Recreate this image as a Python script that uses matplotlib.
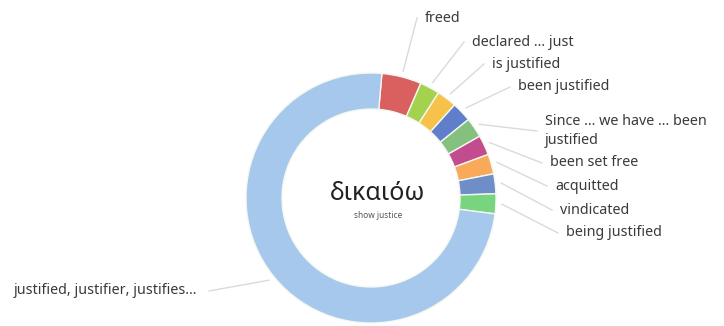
import matplotlib.pyplot as plt
import numpy as np

# word usage for δικαιόω
labels = ['freed', 'declared ... just', 'is justified', 'been justified',
          'Since ... we have ... been\njustified', 'been set free', 'acquitted',
          'vindicated', 'being justified', 'justified, justifier, justifies...']
counts = [2, 1, 1, 1, 1, 1, 1, 1, 1, 29]
colors = ['#d9605f', '#a5d24e', '#f6c24a', '#5f7fcb', '#86c07e', '#c24c8e',
          '#f8a95a', '#6f8ec8', '#78d47f', '#a6c8ec']

# where each label sits (left edge x, centre y) in pixels
label_pos = [(425, 18), (472, 42), (492, 64), (518, 87), (545, 131),
             (550, 163), (555, 186), (560, 210), (566, 233), (197, 291)]

plt.rcParams['font.family'] = ['Noto Sans', 'DejaVu Sans']

fig = plt.figure(figsize=(7.24, 3.26), dpi=100)
ax = fig.add_axes([0, 0, 1, 1])

cx, cy, R = 371, 198, 125
wedges, _ = ax.pie(counts, colors=colors, center=(cx, cy), radius=R,
                   startangle=-85, counterclock=True,
                   wedgeprops=dict(width=36, edgecolor='#f4f8f0', linewidth=1.0),
                   frame=True)
ax.set_xlim(0, 724)
ax.set_ylim(326, 0)
ax.set_aspect('equal')
ax.axis('off')

for w, lab, (tx, ty) in zip(wedges, labels, label_pos):
    ang = np.deg2rad((w.theta1 + w.theta2) / 2)
    # y axis is flipped, so angles run clockwise on screen
    px = cx + (R + 6) * np.cos(ang)
    py = cy + (R + 6) * np.sin(ang)
    right = tx < cx
    ha = 'right' if right else 'left'
    ex = tx + 12 if right else tx - 8
    ax.plot([px, ex], [py, ty], color='#dadada', lw=1, zorder=0)
    ax.text(tx, ty, lab, ha=ha, va='center', fontsize=10.3, color='#3a3a3a',
            linespacing=1.45)

ax.text(cx + 7, cy - 5, 'δικαιόω', ha='center', va='center', fontsize=18,
        color='#222222')
ax.text(cx + 7, cy + 17, 'show justice', ha='center', va='center', fontsize=6,
        color='#555555')

plt.savefig('out.png', dpi=100)
